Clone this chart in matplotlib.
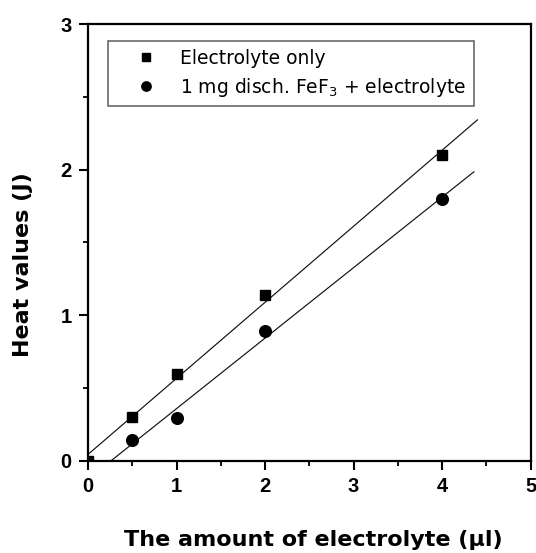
import numpy as np
import matplotlib
matplotlib.use("Agg")
import matplotlib.pyplot as plt
from matplotlib.ticker import MultipleLocator

plt.rcParams['font.family'] = ['DejaVu Sans']
plt.rcParams['mathtext.fontset'] = 'dejavusans'

# heat measured vs electrolyte volume
vol_only = [0, 0.5, 1, 2, 4]
heat_only = [0.0, 0.30, 0.60, 1.14, 2.10]
vol_fef3 = [0.5, 1, 2, 4]
heat_fef3 = [0.145, 0.296, 0.89, 1.80]

label_only = "Electrolyte only"
label_fef3 = "1 mg disch. FeF$_3$ + electrolyte"

fig = plt.figure(figsize=(5.36, 5.53), dpi=100)
ax = fig.add_axes([0.1642, 0.1664, 0.8256, 0.7902])

# linear fits
k1, b1 = np.polyfit(vol_only, heat_only, 1)
xs1 = np.array([0, 4.4])
ax.plot(xs1, k1 * xs1 + b1, color='#111111', lw=0.85)
k2, b2 = np.polyfit(vol_fef3, heat_fef3, 1)
xs2 = np.array([-b2 / k2, 4.36])
ax.plot(xs2, k2 * xs2 + b2, color='#111111', lw=0.85)

ax.plot(vol_only, heat_only, 's', color='black', ms=7.2, label=label_only)
ax.plot(vol_fef3, heat_fef3, 'o', color='black', ms=8.4, label=label_fef3)

ax.set_xlim(0, 5)
ax.set_ylim(0, 3)
ax.xaxis.set_major_locator(MultipleLocator(1))
ax.xaxis.set_minor_locator(MultipleLocator(0.5))
ax.yaxis.set_major_locator(MultipleLocator(1))
ax.yaxis.set_minor_locator(MultipleLocator(0.5))
ax.tick_params(which='major', direction='out', length=6.3, width=1.5,
               pad=5.5)
ax.tick_params(which='minor', direction='out', length=3.8, width=1.3)
for lab in ax.get_xticklabels() + ax.get_yticklabels():
    lab.set_fontweight('bold')
    lab.set_fontfamily('Liberation Sans')
    lab.set_fontsize(14.5)
for sp in ax.spines.values():
    sp.set_linewidth(1.6)

ax.set_xlabel("The amount of electrolyte (\u03bcl)", fontsize=16,
              fontweight='bold')
ax.xaxis.set_label_coords(0.51, -0.158)
ax.set_ylabel("Heat values (J)", fontsize=16, fontweight='bold')
ax.yaxis.set_label_coords(-0.124, 0.449)

leg = ax.legend(loc='upper left', bbox_to_anchor=(0.045, 0.961),
                borderaxespad=0, fontsize=13.5, frameon=True, fancybox=False,
                edgecolor='#333333', handletextpad=0.15, borderpad=0.4,
                labelspacing=0.45, handlelength=3.3, markerscale=0.8)
leg.get_frame().set_linewidth(1.1)

fig.savefig("out.png", dpi=100)
